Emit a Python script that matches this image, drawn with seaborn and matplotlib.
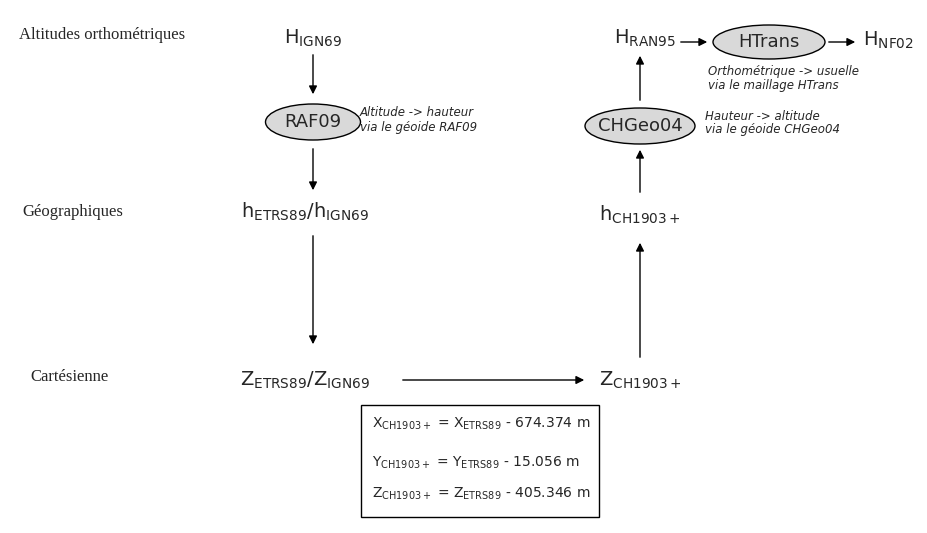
import matplotlib
matplotlib.use('Agg')
import matplotlib.pyplot as plt
import seaborn as sns
from matplotlib.patches import Ellipse, Rectangle

sns.set_style('white')
plt.rcParams['font.family'] = ['DejaVu Sans']
plt.rcParams['mathtext.fontset'] = 'dejavusans'

# ===== Données du schéma =====
row_labels = ['Altitudes orthométriques', 'Géographiques', 'Cartésienne']
row_label_pos = [(19, 35), (22, 212), (30, 377)]

nodes = [r'H$_{\rm IGN69}$', r'h$_{\rm ETRS89}$/h$_{\rm IGN69}$', r'Z$_{\rm ETRS89}$/Z$_{\rm IGN69}$',
         r'Z$_{\rm CH1903+}$', r'h$_{\rm CH1903+}$', r'H$_{\rm RAN95}$', r'H$_{\rm NF02}$']
node_pos = [(313, 38), (305, 212), (305, 380), (640, 380), (640, 215), (645, 38), (888, 40)]

models = ['RAF09', 'CHGeo04', 'HTrans']
model_pos = [(313, 122, 95, 36), (640, 126, 110, 36), (769, 42, 112, 34)]

notes = ['Altitude -> hauteur\nvia le géoide RAF09',
         'Hauteur -> altitude\nvia le géoide CHGeo04',
         'Orthométrique -> usuelle\nvia le maillage HTrans']
note_pos = [(360, 120), (705, 123), (708, 79)]

arrows = [((313, 52), (313, 97)), ((313, 146), (313, 193)), ((313, 233), (313, 347)),
          ((400, 380), (587, 380)), ((640, 360), (640, 240)), ((640, 195), (640, 147)),
          ((640, 103), (640, 53)), ((678, 42), (710, 42)), ((826, 42), (858, 42))]

box_lines = [r'X$_{\rm CH1903+}$ = X$_{\rm ETRS89}$ - 674.374 m',
             r'Y$_{\rm CH1903+}$ = Y$_{\rm ETRS89}$ - 15.056 m',
             r'Z$_{\rm CH1903+}$ = Z$_{\rm ETRS89}$ - 405.346 m']
box_y = [424, 463, 494]

fig = plt.figure(figsize=(9.27, 5.33), dpi=100)
ax = fig.add_axes([0, 0, 1, 1])
ax.set_xlim(0, 927)
ax.set_ylim(533, 0)
ax.axis('off')

for lab, (x, y) in zip(row_labels, row_label_pos):
    ax.text(x, y, lab, family='Liberation Serif', fontsize=12, va='center', ha='left')

for lab, (x, y) in zip(nodes, node_pos):
    ax.text(x, y, lab, fontsize=14, ha='center', va='center')

for lab, (x, y, w, h) in zip(models, model_pos):
    ax.add_patch(Ellipse((x, y), w, h, facecolor='#d9d9d9', edgecolor='black', lw=1))
    ax.text(x, y, lab, fontsize=13, ha='center', va='center')

for lab, (x, y) in zip(notes, note_pos):
    ax.text(x, y, lab, fontsize=8.5, style='italic', ha='left', va='center', linespacing=1.1)

for (x0, y0), (x1, y1) in arrows:
    ax.annotate('', xy=(x1, y1), xytext=(x0, y0),
                arrowprops=dict(arrowstyle='-|>', color='black', lw=1, mutation_scale=12))

ax.add_patch(Rectangle((361, 405), 238, 112, facecolor='none', edgecolor='black', lw=1))
for lab, y in zip(box_lines, box_y):
    ax.text(372, y, lab, fontsize=10, ha='left', va='center')

plt.savefig('out.png', dpi=100)
plt.close(fig)
